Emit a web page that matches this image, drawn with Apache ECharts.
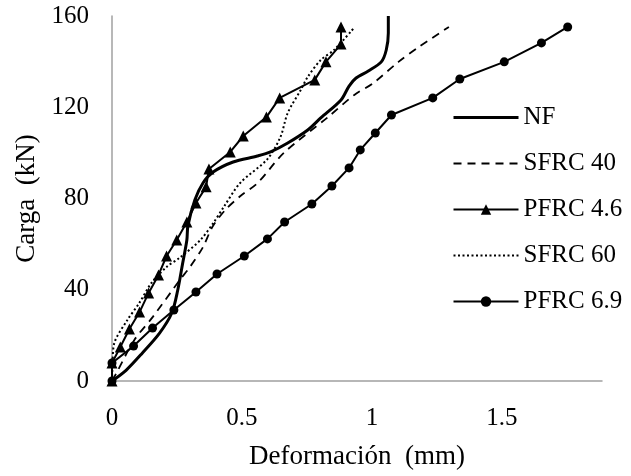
<!DOCTYPE html>
<html>
<head>
<meta charset="utf-8">
<script src="https://cdn.jsdelivr.net/npm/echarts@6/dist/echarts.min.js"></script>
<style>
  html, body { margin: 0; padding: 0; background: #fff; }
  #chart { width: 631px; height: 476px; }
</style>
</head>
<body>
<div id="chart"></div>
<script>
// valores (deformación mm / carga kN)
var nfX = [0, 0.055, 0.117, 0.183, 0.230, 0.253, 0.272, 0.288, 0.292, 0.319, 0.350, 0.389, 0.466, 0.559, 0.610, 0.676, 0.753, 0.803, 0.881, 0.912, 0.939, 0.986, 1.036, 1.055, 1.063, 1.063];
var nfY = [0, 4.8, 12.3, 21.0, 29.8, 39.9, 51.7, 61.8, 68.0, 79.4, 86.8, 91.6, 96.0, 98.6, 100.4, 104.3, 110.0, 115.3, 123.2, 129.3, 132.8, 135.9, 139.9, 145.1, 152.6, 160];

var sfrc40X = [0, 0.017, 0.086, 0.157, 0.261, 0.300, 0.350, 0.386, 0.436, 0.494, 0.560, 0.661, 0.831, 0.932, 1.005, 1.102, 1.180, 1.296];
var sfrc40Y = [0, 3.5, 18.0, 28.1, 44.3, 50.0, 58.7, 67.5, 75.0, 81.1, 86.8, 100.0, 115.7, 125.4, 130.6, 139.9, 146.4, 155.2];

var pfrc46X = [0, 0, 0.032, 0.067, 0.106, 0.141, 0.179, 0.210, 0.249, 0.288, 0.323, 0.362, 0.373, 0.455, 0.505, 0.594, 0.645, 0.780, 0.823, 0.881, 0.881];
var pfrc46Y = [0, 7.9, 14.9, 22.8, 30.2, 38.6, 46.5, 54.8, 61.8, 69.7, 78.0, 85.1, 92.9, 100.4, 107.4, 115.7, 124.1, 132.0, 139.9, 147.7, 155.2];

var sfrc60X = [0, 0.002, 0.009, 0.059, 0.105, 0.152, 0.210, 0.260, 0.340, 0.390, 0.430, 0.493, 0.598, 0.648, 0.676, 0.726, 0.753, 0.803, 0.854, 0.931];
var sfrc60Y = [0, 7.0, 16.7, 26.7, 34.2, 43.0, 50.0, 54.0, 61.8, 69.3, 76.3, 86.8, 97.3, 107.0, 117.5, 127.6, 133.3, 140.7, 145.1, 154.8];

var pfrc69X = [0, 0, 0.083, 0.156, 0.238, 0.323, 0.404, 0.509, 0.598, 0.664, 0.769, 0.846, 0.912, 0.955, 1.013, 1.075, 1.234, 1.338, 1.509, 1.652, 1.753];
var pfrc69Y = [0, 7.9, 15.3, 23.2, 31.1, 39.0, 46.9, 54.8, 62.3, 69.7, 77.6, 85.5, 93.4, 101.3, 108.7, 116.6, 124.1, 132.4, 139.9, 148.2, 155.2];

var xTicks = [0, 0.5, 1, 1.5];
var yTicks = [0, 40, 80, 120, 160];

function pares(xs, ys) {
  return xs.map(function (x, i) { return [x, ys[i]]; });
}

var fuente = '"Liberation Serif", "DejaVu Serif", serif';
var sinSimbolo = { opacity: 0 };  // la leyenda de las líneas sin marcador
var chart = echarts.init(document.getElementById('chart'));

var options = {
  animation: false,
  backgroundColor: '#fff',
  grid: {
    left: 112,
    right: 29,
    top: 16,
    bottom: 95,
    containLabel: false
  },
  legend: {
    orient: 'vertical',
    left: 447,
    top: 100,
    itemWidth: 65,
    itemHeight: 13,
    itemGap: 21,
    textStyle: { fontFamily: fuente, fontSize: 25, color: '#000' },
    data: [
      { name: 'NF', itemStyle: sinSimbolo, lineStyle: { width: 3 } },
      { name: 'SFRC 40', itemStyle: sinSimbolo },
      { name: 'PFRC 4.6' },
      { name: 'SFRC 60', itemStyle: sinSimbolo },
      { name: 'PFRC 6.9' }
    ]
  },
  xAxis: {
    type: 'value',
    min: 0,
    max: 1.885,
    interval: 0.5,
    name: 'Deformación  (mm)',
    nameLocation: 'middle',
    nameGap: 62,
    nameTextStyle: { fontFamily: fuente, fontSize: 27, color: '#000' },
    axisLine: { show: true, lineStyle: { color: '#a0a0a0', width: 1.5 } },
    axisTick: { show: false },
    splitLine: { show: false },
    axisLabel: {
      showMaxLabel: false,
      margin: 25,
      fontFamily: fuente,
      fontSize: 25,
      color: '#000',
      formatter: function (v) { return xTicks.indexOf(v) >= 0 ? String(v) : ''; }
    }
  },
  yAxis: {
    type: 'value',
    min: 0,
    max: 160,
    interval: 40,
    name: 'Carga  (kN)',
    nameLocation: 'middle',
    nameGap: 68,
    nameTextStyle: { fontFamily: fuente, fontSize: 27, color: '#000' },
    axisLine: { show: true, lineStyle: { color: '#a0a0a0', width: 1.5 } },
    axisTick: { show: false },
    splitLine: { show: false },
    axisLabel: {
      margin: 23,
      fontFamily: fuente,
      fontSize: 25,
      color: '#000',
      formatter: function (v) { return yTicks.indexOf(v) >= 0 ? String(v) : ''; }
    }
  },
  series: [
    {
      name: 'PFRC 6.9',
      type: 'line',
      data: pares(pfrc69X, pfrc69Y),
      symbol: 'circle',
      symbolSize: 9,
      lineStyle: { color: '#000', width: 2 },
      itemStyle: { color: '#000' }
    },
    {
      name: 'NF',
      type: 'line',
      data: pares(nfX, nfY),
      symbol: 'none',
      smooth: 0.3,
      lineStyle: { color: '#000', width: 3 },
      itemStyle: { color: '#000' }
    },
    {
      name: 'SFRC 40',
      type: 'line',
      data: pares(sfrc40X, sfrc40Y),
      symbol: 'none',
      smooth: 0.3,
      lineStyle: { color: '#000', width: 1.8, type: [8, 6] },
      itemStyle: { color: '#000' }
    },
    {
      name: 'SFRC 60',
      type: 'line',
      data: pares(sfrc60X, sfrc60Y),
      symbol: 'none',
      smooth: 0.3,
      lineStyle: { color: '#000', width: 2, type: [2, 2.5] },
      itemStyle: { color: '#000' }
    },
    {
      name: 'PFRC 4.6',
      type: 'line',
      data: pares(pfrc46X, pfrc46Y),
      symbol: 'triangle',
      symbolSize: 11,
      lineStyle: { color: '#000', width: 2 },
      itemStyle: { color: '#000' }
    }
  ]
};

chart.setOption(options);
</script>
</body>
</html>
